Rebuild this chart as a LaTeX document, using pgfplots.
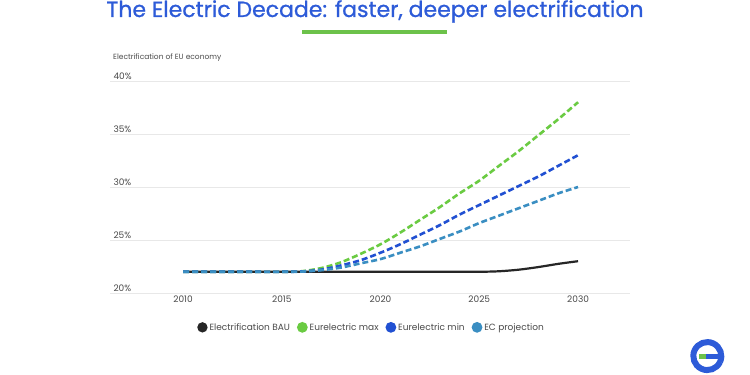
\documentclass[border=0pt]{standalone}
\usepackage{fontspec}
\setmainfont{Poppins}
\newfontfamily\titlefont{Poppins}[FakeBold=0.8]
\usepackage{pgfplots}
\usepackage{pgfplotstable}
\pgfplotsset{compat=1.18}

\definecolor{titleblue}{HTML}{2D5BD8}
\definecolor{accentgreen}{HTML}{6CC24A}
\definecolor{baublack}{HTML}{262626}
\definecolor{maxgreen}{HTML}{6ACB42}
\definecolor{minblue}{HTML}{2150D2}
\definecolor{ecblue}{HTML}{3A8EC2}
\definecolor{gridgray}{HTML}{E8E8E8}
\definecolor{labelgray}{HTML}{4A4A4A}

% Electrification share of the EU economy (%), yearly
\pgfplotstableread{
year bau max min ec
2010 22 22 22 22
2011 22 22 22 22
2012 22 22 22 22
2013 22 22 22 22
2014 22 22 22 22
2015 22 22 22 22
2016 22 22.05 22.03 22.02
2017 22 22.35 22.2 22.15
2018 22 22.9 22.6 22.4
2019 22 23.7 23.1 22.8
2020 22 24.6 23.8 23.2
2021 22 25.7 24.6 23.8
2022 22 26.9 25.5 24.4
2023 22 28.1 26.4 25.1
2024 22 29.4 27.4 25.8
2025 22 30.6 28.3 26.6
2026 22.05 32.0 29.2 27.3
2027 22.2 33.4 30.1 28.0
2028 22.45 34.9 31.0 28.7
2029 22.75 36.4 32.0 29.4
2030 23.0 38.0 33.0 30.0
}\datatable

\begin{document}
\begin{tikzpicture}
\begin{scope}[x=1pt,y=1pt]
\path[fill=white,use as bounding box] (0,0) rectangle (750,375);

% title and accent bar
\node[anchor=base, font=\titlefont\fontsize{22}{24}\selectfont, text=titleblue, inner sep=0pt] at (375,358) {The Electric Decade: faster, deeper electrification};
\fill[accentgreen] (302,341) rectangle (447,344.5);

% axis caption
\node[anchor=west, font=\fontsize{7.5}{9}\selectfont, text=labelgray, inner sep=0pt] at (113,317) {Electrification of EU economy};

% logo
\begin{scope}[shift={(707,18)}]
  \draw[titleblue, line width=6pt] (13,-5) arc[start angle=-25, end angle=335, radius=14];
  \fill[titleblue] (-2,-2.5) rectangle (16,3);
  \fill[accentgreen] (-8,-2.5) rectangle (-1,3);
\end{scope}
\end{scope}

\begin{axis}[
  at={(110pt,82pt)}, anchor=south west,
  scale only axis, width=520pt, height=212pt,
  xmin=2006.3, xmax=2032.63, ymin=20, ymax=40,
  axis line style={draw=none},
  major tick length=0pt,
  ytick={20,25,30,35,40},
  xtick={2010,2015,2020,2025,2030},
  xticklabels={2010,2015,2020,2025,2030},
  yticklabel={\pgfmathprintnumber{\tick}\%},
  /pgf/number format/assume math mode=true,
  ymajorgrids, grid style={draw=gridgray, line width=0.8pt},
  yticklabel style={anchor=south west, xshift=0pt, yshift=-2pt, font=\fontsize{9}{10}\selectfont, text=labelgray},
  xticklabel style={font=\fontsize{9}{10}\selectfont, text=labelgray, yshift=1pt},
  clip=false,
  legend style={at={(0.503,-0.162)}, anchor=center, draw=none, fill=none,
    font=\fontsize{9}{11}\selectfont, text=labelgray,
    legend columns=4, inner sep=0pt,
    /tikz/every even column/.append style={column sep=5pt}},
  legend image code/.code={\fill[solid] (0pt,0pt) circle (4pt);},
  legend cell align=left,
]
\addplot[color=baublack, line width=2.2pt, smooth] table[x=year, y=bau] {\datatable};
\addlegendentry{Electrification BAU}
\addplot[color=maxgreen, line width=2.6pt, dash pattern=on 6pt off 3pt, smooth] table[x=year, y=max] {\datatable};
\addlegendentry{Eurelectric max}
\addplot[color=minblue, line width=2.6pt, dash pattern=on 6pt off 3pt, smooth] table[x=year, y=min] {\datatable};
\addlegendentry{Eurelectric min}
\addplot[color=ecblue, line width=2.6pt, dash pattern=on 6pt off 3pt, smooth] table[x=year, y=ec] {\datatable};
\addlegendentry{EC projection}
\end{axis}
\end{tikzpicture}
\end{document}
